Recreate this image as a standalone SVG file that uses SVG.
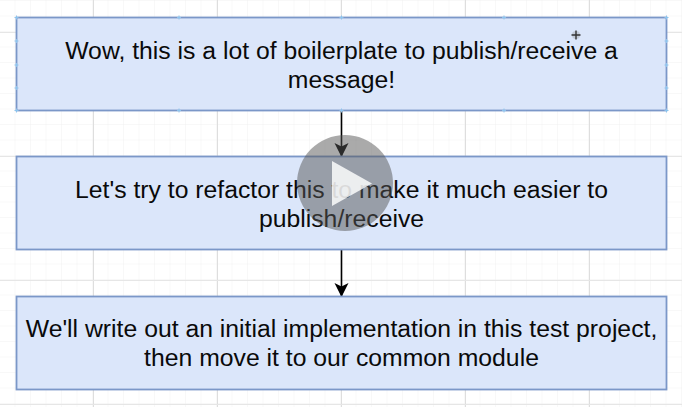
<svg xmlns="http://www.w3.org/2000/svg" width="682" height="407" viewBox="0 0 682 407">
<style>
.box{fill:#dbe6fa;stroke:#7b97c8;stroke-width:1.8}
.t{font-family:"Liberation Sans",Arial,sans-serif;font-size:24.75px;fill:#0a0a0a;text-anchor:middle}
.c{fill:none;stroke:#000;stroke-width:1.6}
.h{stroke:#8cc4ee;stroke-width:1;fill:none}
</style>
<defs>
<pattern id="minor" width="15.5" height="15.5" patternUnits="userSpaceOnUse" x="0" y="1"><path d="M15.5 0V15.5M0 15.5H15.5" fill="none" stroke="#f1f1f1" stroke-width="1"/></pattern>
<pattern id="majorv" width="124" height="124" patternUnits="userSpaceOnUse" x="93" y="32"><path d="M0.500 0V124" fill="none" stroke="#dedede" stroke-width="1"/></pattern>
<pattern id="majorh" width="124" height="124" patternUnits="userSpaceOnUse" x="93" y="32"><path d="M0 0.500H124" fill="none" stroke="#e6e6e6" stroke-width="1"/></pattern>
<marker id="arrow" markerUnits="userSpaceOnUse" markerWidth="14" markerHeight="16" refX="13" refY="7" orient="auto"><path d="M0 0L14 7L0 14L3.500 7Z" fill="#000"/></marker>
<path id="x" d="M-2 0H2M0 -2V2" class="h"/>
</defs>
<rect width="682" height="407" fill="#fff"/>
<rect width="682" height="407" fill="url(#minor)"/>
<rect width="682" height="407" fill="url(#majorv)"/>
<rect width="682" height="407" fill="url(#majorh)"/>
<g id="connectors">
<path class="c" d="M341.500 110V156" marker-end="url(#arrow)"/>
<path class="c" d="M341.500 250V296" marker-end="url(#arrow)"/>
</g>
<g id="node1">
<rect class="box" x="16.500" y="17.500" width="650" height="93"/>
<text class="t" x="341.500" y="59">Wow, this is a lot of boilerplate to publish/receive a</text>
<text class="t" x="341.500" y="88">message!</text>
<use href="#x" x="16.500" y="17.500"/><use href="#x" x="179" y="17.500"/><use href="#x" x="341.500" y="17.500"/><use href="#x" x="504" y="17.500"/><use href="#x" x="666.500" y="17.500"/>
<use href="#x" x="16.500" y="41"/><use href="#x" x="16.500" y="65"/><use href="#x" x="16.500" y="88"/><use href="#x" x="666.500" y="41"/><use href="#x" x="666.500" y="65"/><use href="#x" x="666.500" y="88"/>
<use href="#x" x="16.500" y="110.500"/><use href="#x" x="179" y="110.500"/><use href="#x" x="341.500" y="110.500"/><use href="#x" x="504" y="110.500"/><use href="#x" x="666.500" y="110.500"/>
</g>
<g id="node2">
<rect class="box" x="16.500" y="156.500" width="650" height="93"/>
<text class="t" x="341.500" y="198">Let's try to refactor this to make it much easier to</text>
<text class="t" x="341.500" y="227">publish/receive</text>
</g>
<g id="node3">
<rect class="box" x="16.500" y="296.500" width="650" height="93"/>
<text class="t" x="341.500" y="337">We'll write out an initial implementation in this test project,</text>
<text class="t" x="341.500" y="366">then move it to our common module</text>
</g>
<g id="play">
<circle cx="345" cy="183" r="48" fill="#555" fill-opacity="0.5"/>
<path d="M332 161L372 183.500L332 206Z" fill="#fff" fill-opacity="0.82"/>
</g>
<g id="cursor">
<circle cx="576" cy="35" r="4" fill="#999" fill-opacity="0.35"/>
<path d="M576 30.500V39.500M571.500 35H580.500" stroke="#333" stroke-width="1.4" fill="none"/>
</g>
</svg>
